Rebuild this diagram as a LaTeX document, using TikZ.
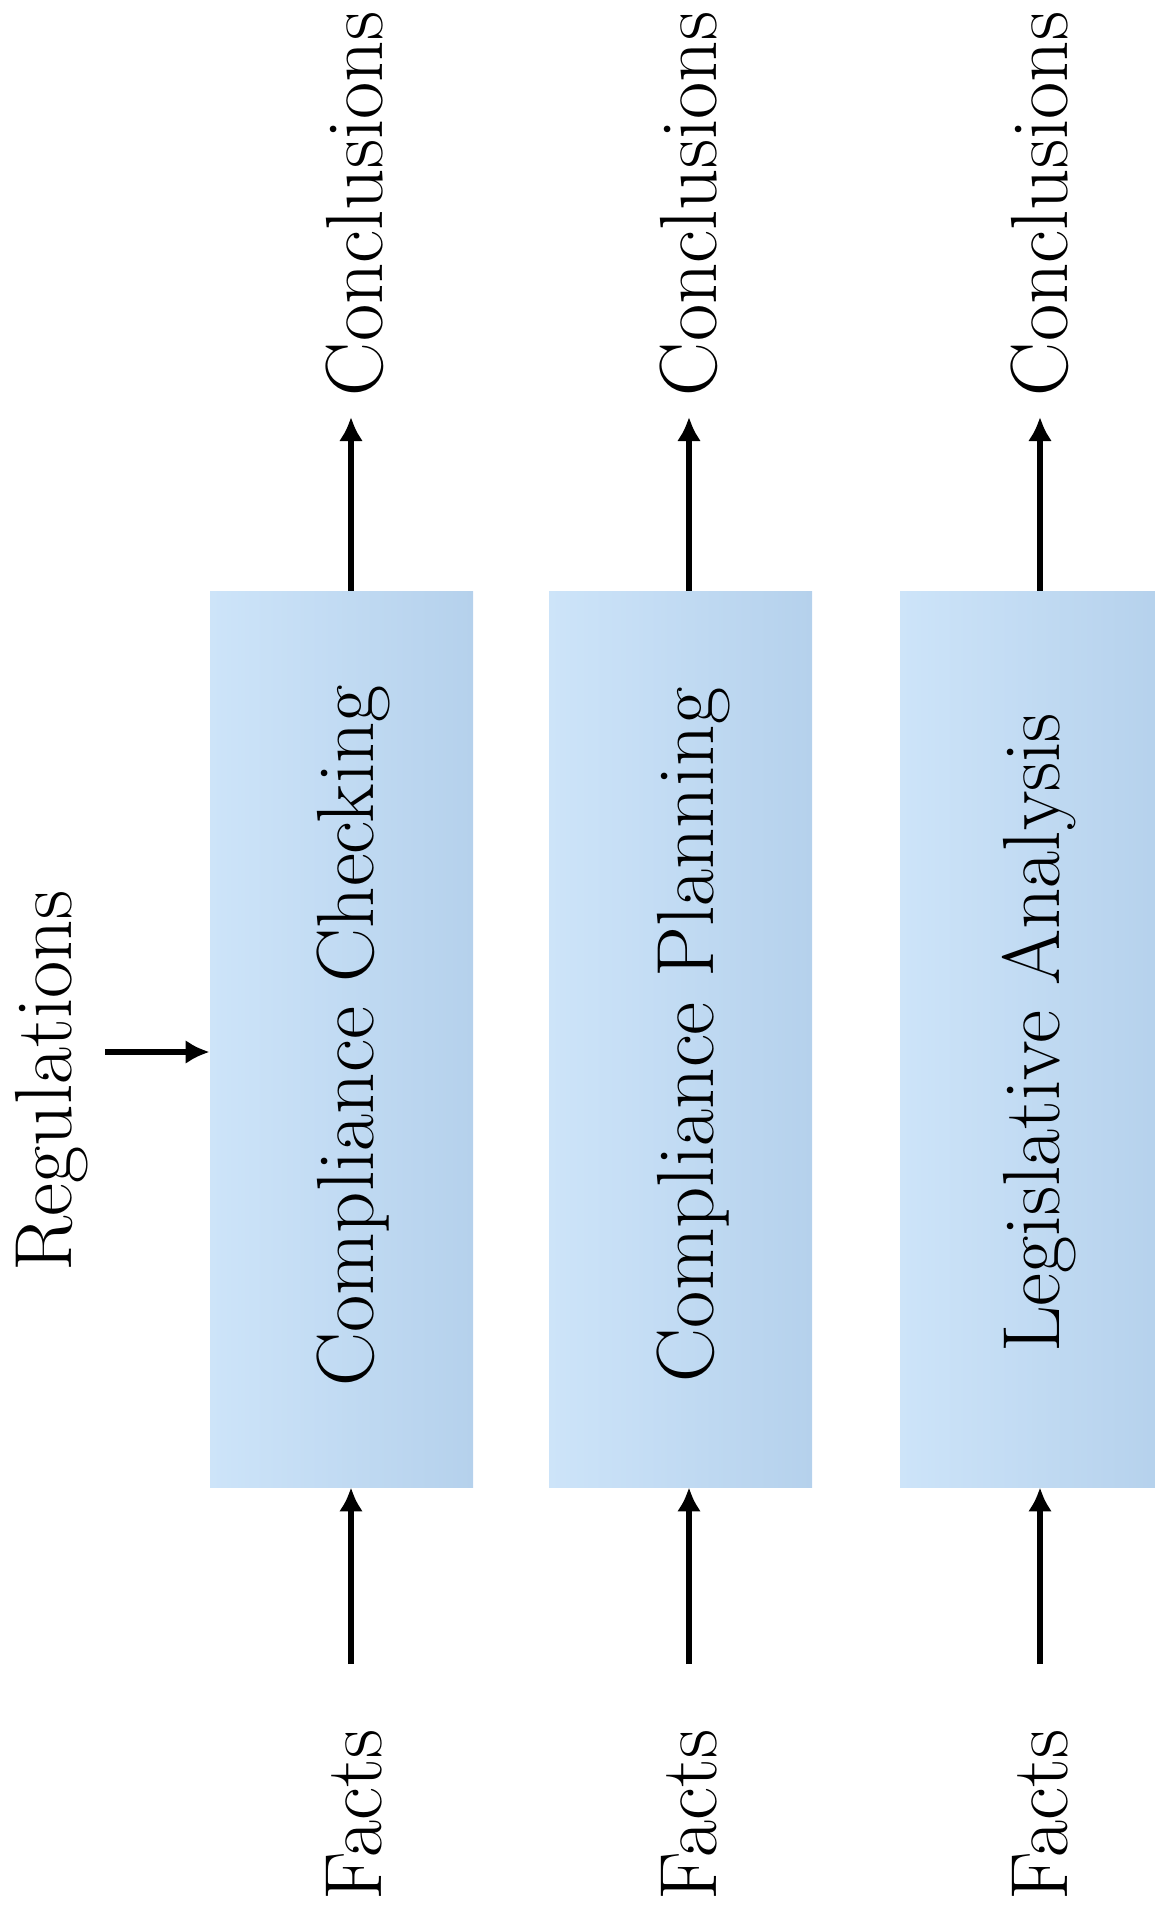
\documentclass[tikz,border=0pt]{standalone}
\usetikzlibrary{arrows.meta}
\definecolor{boxleft}{RGB}{205,228,249}
\definecolor{boxright}{RGB}{181,209,236}
\begin{document}
\begin{tikzpicture}[x=0.5pt,y=-0.5pt,
  lbl/.style={rotate=90,inner sep=0pt,font=\fontsize{40.5}{48}\selectfont},
  boxnode/.style={draw=none,inner sep=0pt,minimum width=131.5pt,minimum height=448pt,left color=boxleft,right color=boxright},
  arr/.style={line width=3pt,-{Latex[length=12pt,width=12pt]}}]
\useasboundingbox (0,0) rectangle (1155,1913);
\clip (0,0) rectangle (1155,1913);
% boxes
\node[boxnode] (b1) at (341.5,1039) {};
\node[boxnode] (b2) at (680.5,1039) {};
\node[boxnode] (b3) at (1031.5,1039) {};
% box labels
\node[lbl] (l1) at (353,1036) {Compliance Checking};
\node[lbl] (l2) at (693,1035) {Compliance Planning};
\node[lbl] (l3) at (1039,1033) {Legislative Analysis};
% outputs
\node[lbl] (c1) at (355,204) {Conclusions};
\node[lbl] (c2) at (689,204) {Conclusions};
\node[lbl] (c3) at (1040,204) {Conclusions};
% inputs
\node[lbl] (f1) at (354,1815) {Facts};
\node[lbl] (f2) at (689,1815) {Facts};
\node[lbl] (f3) at (1040,1815) {Facts};
\node[lbl] (reg) at (52,1081) {Regulations};
% arrow ends
\coordinate (t1) at (351,417);
\coordinate (t2) at (689,417);
\coordinate (t3) at (1040,417);
\coordinate (s1) at (351,1664);
\coordinate (s2) at (689,1664);
\coordinate (s3) at (1040,1664);
\coordinate (r) at (105,1052);
\draw[arr] (b1.north -| t1) -- (t1);
\draw[arr] (b2.north -| t2) -- (t2);
\draw[arr] (b3.north -| t3) -- (t3);
\draw[arr] (s1) -- (b1.south -| s1);
\draw[arr] (s2) -- (b2.south -| s2);
\draw[arr] (s3) -- (b3.south -| s3);
\draw[arr] (r) -- (b1.west |- r);
\end{tikzpicture}
\end{document}
